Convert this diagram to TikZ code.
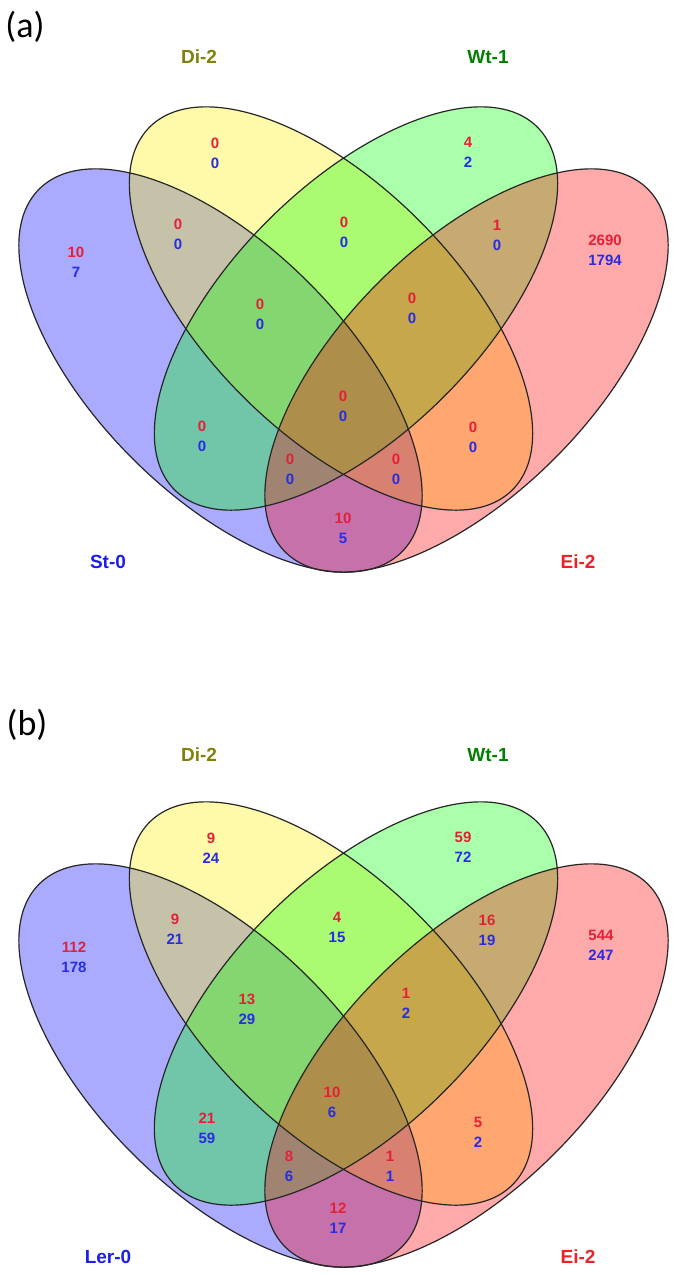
\documentclass[tikz,border=0pt]{standalone}
\usepackage{fontspec}
\setmainfont{Liberation Sans}
\newfontfamily\carl{Carlito}
\definecolor{numred}{RGB}{228,32,56}
\definecolor{numblue}{RGB}{40,44,226}
\definecolor{labolive}{RGB}{128,128,10}
\definecolor{labgreen}{RGB}{0,128,0}
\definecolor{labblue}{RGB}{30,30,235}
\definecolor{labred}{RGB}{235,35,40}
\tikzset{
  setfill/.style={fill opacity=0.333},
  setline/.style={draw=black!85, line width=1.2pt},
  rnum/.style={text=numred, font=\fontsize{15}{18}\selectfont\bfseries, inner sep=0pt},
  bnum/.style={text=numblue, font=\fontsize{15}{18}\selectfont\bfseries, inner sep=0pt},
  setlab/.style={font=\fontsize{19}{22}\selectfont\bfseries, inner sep=0pt},
  panlab/.style={font=\fontsize{36}{40}\selectfont\carl, inner sep=0pt}
}
\newcommand\ellA{(220.5,370.5) ellipse [x radius=256.5pt, y radius=124.5pt]}
\newcommand\ellB{(331,308.5) ellipse [x radius=256.5pt, y radius=124.5pt]}
\newcommand\ellC{(356,308.5) ellipse [x radius=256.5pt, y radius=124.5pt]}
\newcommand\ellD{(466.5,370.5) ellipse [x radius=256.5pt, y radius=124.5pt]}
\newcommand\vennshapes{%
  \fill[setfill, fill=blue, rotate around={-45:(220.5,370.5)}] \ellA;
  \fill[setfill, fill=yellow, rotate around={-45:(331,308.5)}] \ellB;
  \fill[setfill, fill=green, rotate around={45:(356,308.5)}] \ellC;
  \fill[setfill, fill=red, rotate around={45:(466.5,370.5)}] \ellD;
  \draw[setline, rotate around={-45:(220.5,370.5)}] \ellA;
  \draw[setline, rotate around={-45:(331,308.5)}] \ellB;
  \draw[setline, rotate around={45:(356,308.5)}] \ellC;
  \draw[setline, rotate around={45:(466.5,370.5)}] \ellD;
}
% region: prefix, x, y, red value, blue value
\newcommand\reg[5]{%
  \node[rnum] (#1r) at (#2,#3) {#4};
  \node[bnum] (#1b) at (#2,#3+20) {#5};
}
\begin{document}
\begin{tikzpicture}[x=1pt,y=-1pt]
\useasboundingbox (0,0) rectangle (675,1275);
\fill[white] (0,0) rectangle (675,1275);

% ---------------- panel (a)
\begin{scope}
\vennshapes
\node[panlab] (alab) at (25,27) {(a)};
\node[setlab, text=labolive] (adi) at (199,57) {Di-2};
\node[setlab, text=labgreen] (awt) at (488,57) {Wt-1};
\node[setlab, text=labblue] (ast) at (108,562) {St-0};
\node[setlab, text=labred] (aei) at (578,562) {Ei-2};
\reg{aS}{76}{252}{10}{7}
\reg{aD}{215}{143}{0}{0}
\reg{aW}{468}{142}{4}{2}
\reg{aE}{605}{240}{2690}{1794}
\reg{aSD}{178}{224}{0}{0}
\reg{aDW}{344}{222}{0}{0}
\reg{aWE}{497}{225}{1}{0}
\reg{aSDW}{260}{304}{0}{0}
\reg{aDWE}{412}{298}{0}{0}
\reg{aAll}{343}{396}{0}{0}
\reg{aSW}{202}{426}{0}{0}
\reg{aDE}{473}{427}{0}{0}
\reg{aSWE}{290}{459}{0}{0}
\reg{aSDE}{396}{459}{0}{0}
\reg{aSE}{343}{518}{10}{5}
\end{scope}

% ---------------- panel (b)
\begin{scope}[yshift=-695pt]
\vennshapes
\node[panlab] (blab) at (27,30) {(b)};
\node[setlab, text=labolive] (bdi) at (199,60) {Di-2};
\node[setlab, text=labgreen] (bwt) at (488,60) {Wt-1};
\node[setlab, text=labblue] (bst) at (108,562) {Ler-0};
\node[setlab, text=labred] (bei) at (578,562) {Ei-2};
\reg{bS}{74}{252}{112}{178}
\reg{bD}{211}{143}{9}{24}
\reg{bW}{463}{142}{59}{72}
\reg{bE}{601}{240}{544}{247}
\reg{bSD}{175}{224}{9}{21}
\reg{bDW}{337}{222}{4}{15}
\reg{bWE}{487}{225}{16}{19}
\reg{bSDW}{247}{304}{13}{29}
\reg{bDWE}{406}{298}{1}{2}
\reg{bAll}{332}{397}{10}{6}
\reg{bSW}{207}{423}{21}{59}
\reg{bDE}{478}{427}{5}{2}
\reg{bSWE}{289}{461}{8}{6}
\reg{bSDE}{390}{461}{1}{1}
\reg{bSE}{338}{513}{12}{17}
\end{scope}
\end{tikzpicture}
\end{document}
